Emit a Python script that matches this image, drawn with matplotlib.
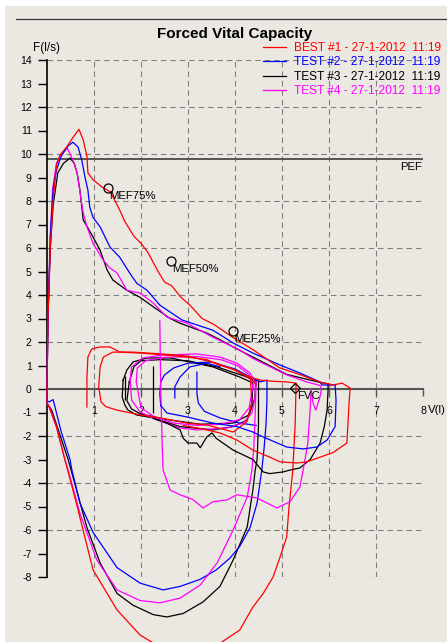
import matplotlib
matplotlib.use('Agg')
import matplotlib.pyplot as plt
from matplotlib.lines import Line2D
from matplotlib.patches import Rectangle

plt.rcParams['font.family'] = ['Liberation Sans', 'DejaVu Sans']
plt.rcParams['axes.unicode_minus'] = False

# ---- data (volume V in l, flow F in l/s) ----
pef = 9.8
mef_v = [1.3, 2.64, 3.96]
mef_f = [8.55, 5.45, 2.47]
mef_labels = ['MEF75%', 'MEF50%', 'MEF25%']
fvc_v, fvc_f = 5.28, 0.03

legend_labels = ['BEST #1 - 27-1-2012  11:19', 'TEST #2 - 27-1-2012  11:19',
                 'TEST #3 - 27-1-2012  11:19', 'TEST #4 - 27-1-2012  11:19']

# red (best #1)
red_exp_v = [0, 0, 0.02, 0.07, 0.13, 0.2, 0.28, 0.42, 0.55, 0.68, 0.77, 0.85, 0.87, 0.98, 1.17, 1.34, 1.45, 1.55, 1.65, 1.85,
             2.0, 2.15, 2.35, 2.5, 2.65, 2.85, 3.05, 3.3, 3.55, 3.95, 4.4, 4.95, 5.4, 5.8, 6.09, 6.28, 6.45, 6.43, 6.4, 6.38,
             6.09, 5.81, 5.53, 5.32, 4.96, 4.74, 4.38, 4.04, 3.68, 3.3, 2.9]
red_exp_f = [-0.6, 0, 3.0, 6.0, 8.0, 9.5, 9.96, 10.3, 10.7, 11.05, 10.6, 9.9, 9.2, 8.9, 8.6, 8.4, 8.0, 7.6, 7.15, 6.5,
             6.2, 5.8, 5.05, 4.55, 4.4, 3.9, 3.55, 3.0, 2.75, 2.2, 1.65, 0.9, 0.6, 0.3, 0.17, 0.25, 0.04, -0.5, -1.6, -2.3,
             -2.7, -2.9, -3.1, -3.15, -3.1, -2.9, -2.6, -2.17, -1.87, -1.7, -1.55]
red_loop1_v = [0.85, 0.85, 0.87, 0.95, 1.13, 1.34, 1.55, 1.98, 2.5, 2.98, 3.4, 3.68, 3.96, 4.2, 4.53, 4.8, 5.1, 5.3, 5.28, 5.23,
               5.15, 5.1, 4.95, 4.81, 4.6, 4.38, 4.1, 3.62, 3.0, 2.34, 1.98, 1.49, 0.98, 0.63, 0.38, 0.2, 0.05, 0]
red_loop1_f = [-0.77, 0.5, 1.36, 1.7, 1.79, 1.79, 1.57, 1.53, 1.45, 1.36, 1.25, 1.0, 0.85, 0.6, 0.38, 0.33, 0.3, 0.25, -1.5, -3.45,
               -5.0, -6.3, -7.2, -8.0, -8.7, -9.28, -10.26, -10.9, -11.2, -10.9, -10.47, -9.4, -7.7, -4.9, -3.0, -1.6, -0.8, -0.6]
red_loop2_v = [4.45, 4.35, 4.0, 3.6, 3.0, 2.4, 1.83, 1.4, 1.2, 1.13, 1.1, 1.15, 1.25, 1.49, 1.98, 2.4, 2.98, 3.4, 3.96, 4.25,
               4.36, 4.33]
red_loop2_f = [0.2, 0.4, 0.8, 1.1, 1.4, 1.5, 1.57, 1.57, 1.36, 0.94, 0.1, -0.55, -0.75, -0.9, -1.1, -1.23, -1.45, -1.53, -1.83, -1.4,
               -0.6, 0.35]

# blue (test #2)
blue_exp_v = [0, 0, 0.02, 0.07, 0.13, 0.2, 0.3, 0.45, 0.55, 0.66, 0.74, 0.81, 0.87, 0.91, 0.98, 1.13, 1.34, 1.55, 1.77, 1.91,
              2.13, 2.4, 2.87, 3.53, 3.96, 4.38, 4.96, 5.38, 5.81, 5.85, 6.13, 6.15, 6.13, 5.96, 5.74, 5.45, 5.1, 4.6, 4.38, 4.04,
              3.53, 2.98, 2.55, 2.42]
blue_exp_f = [-0.5, 0, 3.0, 6.5, 8.5, 9.3, 9.9, 10.35, 10.5, 10.3, 9.74, 9.0, 8.47, 7.74, 7.3, 6.9, 6.04, 5.6, 4.9, 4.5,
              4.2, 3.57, 2.94, 2.5, 1.96, 1.53, 1.02, 0.68, 0.3, 0.17, 0.17, -0.5, -1.6, -2.17, -2.47, -2.55, -2.47, -2.04, -1.83, -1.6,
              -1.45, -1.19, -1.02, -0.7]
blue_loop_v = [2.42, 2.4, 2.42, 2.5, 2.7, 3.0, 3.5, 4.0, 4.38, 4.53, 4.68, 4.68, 4.66, 4.62, 4.57, 4.47, 4.32, 4.1, 3.89, 3.6,
               3.26, 2.83, 2.47, 1.98, 1.49, 0.98, 0.7, 0.53, 0.49, 0.3, 0.13, 0.05, 0]
blue_loop_f = [-0.7, -0.2, 0.3, 0.6, 0.9, 1.1, 1.15, 0.85, 0.45, 0.3, 0.38, -0.5, -1.5, -2.5, -3.45, -4.85, -5.9, -6.7, -7.2, -7.7,
               -8.1, -8.4, -8.55, -8.26, -7.6, -6.1, -4.85, -3.45, -3.0, -1.8, -0.45, -0.55, -0.5]
blue_hook1_v = [2.72, 2.72, 2.83, 3.04, 3.4, 3.68]
blue_hook1_f = [-0.38, 0.1, 0.51, 0.94, 1.1, 0.94]
blue_hook2_v = [3.19, 3.19, 3.22, 3.35, 3.68, 4.1, 4.45]
blue_hook2_f = [0.72, -0.2, -0.6, -0.95, -1.23, -1.45, -1.55]

# black (test #3)
black_exp_v = [0, 0, 0.02, 0.07, 0.13, 0.23, 0.35, 0.49, 0.58, 0.64, 0.7, 0.77, 0.98, 1.13, 1.28, 1.4, 1.7, 1.98, 2.26, 2.62,
               2.83, 3.4, 3.68, 3.96, 4.38, 5.1, 5.81, 5.98, 5.98, 5.96, 5.9, 5.81, 5.6, 5.38, 5.17, 5.02, 4.74, 4.6, 4.38, 3.96,
               3.6, 3.51, 3.4, 3.26, 3.19, 3.0, 2.9, 2.83, 2.55, 2.26]
black_exp_f = [-0.6, 0, 3.0, 6.0, 7.8, 9.2, 9.6, 9.83, 9.6, 9.2, 8.47, 7.2, 6.47, 5.9, 5.06, 4.64, 4.2, 3.9, 3.5, 3.0,
               2.8, 2.38, 2.1, 1.79, 1.36, 0.62, 0.28, 0.22, -0.04, -0.89, -1.6, -2.3, -3.0, -3.36, -3.45, -3.53, -3.6, -3.53, -3.0, -2.6,
               -2.1, -1.87, -2.04, -2.5, -2.3, -2.3, -2.1, -1.74, -1.45, -1.25]
black_loop_v = [1.62, 1.6, 1.66, 1.72, 1.9, 2.26, 2.83, 3.53, 3.96, 4.26, 4.36, 4.38, 4.1, 3.53, 3.04, 2.62, 2.13, 1.83, 1.7, 1.62]
black_loop_f = [0.38, -0.34, -0.7, -0.89, -1.1, -1.23, -1.6, -1.74, -1.6, -1.32, -0.6, 0.26, 0.51, 0.94, 1.15, 1.32, 1.32, 1.15, 0.81, 0.38]
black_loop2_v = [1.75, 1.7, 1.8, 1.98, 2.55, 3.26, 3.96, 4.3, 4.42, 4.45, 4.2, 3.6, 3.0, 2.4, 2.0, 1.85, 1.75]
black_loop2_f = [0.3, -0.5, -0.85, -1.05, -1.3, -1.5, -1.45, -1.1, -0.4, 0.35, 0.55, 0.95, 1.2, 1.25, 1.2, 0.95, 0.3]
black_u_v = [4.38, 4.5, 4.5, 4.47, 4.43, 4.38, 4.26, 3.96, 3.68, 3.32, 2.9, 2.55, 2.26, 1.83, 1.49, 1.13, 0.85, 0.63, 0.45, 0.25,
             0.1, 0]
black_u_f = [0.4, 0.4, -1.5, -3.0, -3.45, -4.3, -5.87, -7.28, -8.4, -9.06, -9.55, -9.7, -9.6, -9.2, -8.7, -7.4, -5.9, -4.3, -3.0, -1.8,
             -0.9, -0.6]
black_bar_v = [1.66, 2.26]
black_bar_top = [0.55, 1.0]
black_bar_bot = [-0.45, -1.0]

# magenta (test #4)
mag_exp_v = [0, 0, 0.02, 0.07, 0.12, 0.2, 0.3, 0.43, 0.55, 0.64, 0.7, 0.77, 0.85, 0.98, 1.19, 1.34, 1.49, 1.7, 1.98, 2.26,
             2.55, 2.98, 3.53, 4.1, 4.38, 5.1, 5.53, 5.81, 5.84, 5.8, 5.72, 5.66, 5.62, 5.6, 5.55, 5.45, 5.38, 5.17, 4.89, 4.68,
             4.47, 4.04, 3.83, 3.53, 3.32, 3.1, 2.83, 2.62, 2.47, 2.45, 2.42, 2.4]
mag_exp_f = [-0.6, 0, 3.0, 6.5, 8.5, 9.6, 10.0, 10.26, 9.74, 9.2, 8.4, 7.5, 6.9, 6.2, 5.5, 5.15, 4.94, 4.2, 4.08, 3.66,
             3.06, 2.8, 2.2, 1.66, 1.3, 0.6, 0.3, 0.15, 0.0, -0.4, -0.9, -0.6, 0.0, -0.8, -2.3, -3.45, -4.17, -4.8, -5.06, -4.85,
             -4.64, -4.5, -4.72, -4.8, -5.06, -4.7, -4.5, -4.3, -3.45, -2.3, 0.0, 2.9]
mag_loop_a_v = [1.77, 1.8, 2.04, 2.47, 3.19, 3.68, 4.04, 4.32, 4.43, 4.43, 4.36, 4.17, 3.83, 3.19, 2.83, 2.34, 1.98, 1.8, 1.77]
mag_loop_a_f = [0.38, 0.94, 1.32, 1.45, 1.49, 1.36, 1.1, 0.68, 0.26, -0.34, -1.02, -1.45, -1.66, -1.74, -1.66, -1.32, -0.98, -0.47, 0.38]
mag_loop_b_v = [1.9, 1.92, 2.1, 2.5, 3.2, 3.7, 4.05, 4.3, 4.38, 4.3, 4.1, 3.7, 3.2, 2.7, 2.3, 2.0, 1.9]
mag_loop_b_f = [0.3, 0.9, 1.2, 1.35, 1.38, 1.25, 1.0, 0.6, 0.1, -0.8, -1.3, -1.5, -1.55, -1.45, -1.2, -0.8, 0.3]
mag_u_v = [4.45, 4.43, 4.4, 4.36, 4.26, 3.96, 3.62, 3.26, 2.83, 2.4, 1.98, 1.49, 1.06, 0.7, 0.45, 0.38, 0.2, 0.05, 0]
mag_u_f = [0.3, -1.0, -2.5, -3.45, -4.6, -6.0, -7.4, -8.34, -8.9, -9.1, -9.0, -8.55, -7.28, -5.28, -3.45, -3.0, -1.6, -0.75, -0.6]

RED, BLUE, BLACK, MAG = '#ff0000', '#0000ff', '#000000', '#ff00ff'

W, H = 447, 642
fig = plt.figure(figsize=(W / 100, H / 100), dpi=100, facecolor='white')
fig.patches.append(Rectangle((5 / W, 0), 1, 1 - 6 / H, transform=fig.transFigure,
                             facecolor='#ebe8e1', edgecolor='none', zorder=-5))
fig.add_artist(Line2D([16 / W, 1], [1 - 19 / H, 1 - 19 / H], color='#333333', lw=0.9))

ax = fig.add_axes([47 / W, 65 / H, 376 / W, 517 / H])
ax.set_zorder(1)
ax.set_xlim(0, 8)
ax.set_ylim(-8, 14)
ax.patch.set_alpha(0)
for s in ['top', 'right']:
    ax.spines[s].set_visible(False)
ax.spines['left'].set_linewidth(1.2)
ax.spines['bottom'].set_position(('data', 0))
ax.spines['bottom'].set_color('#555555')
ax.spines['bottom'].set_linewidth(1.5)
ax.spines['bottom'].set_zorder(2)

ax.set_xticks(range(1, 9))
ax.set_yticks(range(-8, 15))
ax.tick_params(axis='y', length=6.5, width=1, pad=4.5, labelsize=7.6)
ax.tick_params(axis='x', length=5, width=1, pad=7, labelsize=7.6, color='#555555')

# dashed grid
gkw = dict(color='#808080', lw=0.8, ls=(0, (5, 3.5)), zorder=1)
for g in range(1, 9):
    ax.axvline(g, **gkw)
for g in range(-8, 15, 2):
    if g != 0:
        ax.axhline(g, **gkw)

ax.axhline(pef, color='#555555', lw=1.4, zorder=2)
ax.annotate('PEF', (8, pef), xytext=(-1, -3), textcoords='offset pixels',
            ha='right', va='top', fontsize=8.2)

lkw = dict(lw=0.9, clip_on=False, zorder=3)
ax.plot(black_loop_v, black_loop_f, color=BLACK, **lkw)
ax.plot(black_loop2_v, black_loop2_f, color=BLACK, **lkw)
ax.vlines(black_bar_v, black_bar_bot, black_bar_top, color=BLACK, lw=0.9, zorder=3)
ax.plot(black_u_v, black_u_f, color=BLACK, **lkw)
ax.plot(blue_loop_v, blue_loop_f, color=BLUE, **lkw)
ax.plot(blue_hook1_v, blue_hook1_f, color=BLUE, **lkw)
ax.plot(blue_hook2_v, blue_hook2_f, color=BLUE, **lkw)
ax.plot(mag_loop_a_v, mag_loop_a_f, color=MAG, **lkw)
ax.plot(mag_loop_b_v, mag_loop_b_f, color=MAG, **lkw)
ax.plot(mag_u_v, mag_u_f, color=MAG, **lkw)
ax.plot(red_loop1_v, red_loop1_f, color=RED, **lkw)
ax.plot(red_loop2_v, red_loop2_f, color=RED, **lkw)

h_black, = ax.plot(black_exp_v, black_exp_f, color=BLACK, **lkw)
h_mag, = ax.plot(mag_exp_v, mag_exp_f, color=MAG, **lkw)
h_blue, = ax.plot(blue_exp_v, blue_exp_f, color=BLUE, **lkw)
h_red, = ax.plot(red_exp_v, red_exp_f, color=RED, **lkw)

ax.plot(mef_v, mef_f, 'o', ms=6.5, mfc='none', mec='black', mew=0.9, zorder=4)
for v, f, lab in zip(mef_v, mef_f, mef_labels):
    ax.annotate(lab, (v, f), xytext=(1, -8), textcoords='offset pixels',
                ha='left', va='center', fontsize=8.2)
ax.plot([fvc_v], [fvc_f], 'D', ms=5, mfc='none', mec='black', mew=0.9, zorder=4)
ax.annotate('FVC', (fvc_v, fvc_f), xytext=(2, -8), textcoords='offset pixels',
            ha='left', va='center', fontsize=8.2)

leg = ax.legend([h_red, h_blue, h_black, h_mag], legend_labels, loc='upper right',
                bbox_to_anchor=(441 / W, 1 - 42 / H), bbox_transform=fig.transFigure,
                frameon=False, fontsize=8.6, handlelength=1.85, handletextpad=0.7,
                labelspacing=0.2, borderpad=0, borderaxespad=0, labelcolor='linecolor')

fig.text(235 / W, 1 - 34 / H, 'Forced Vital Capacity', ha='center', va='center',
         fontsize=11, fontweight='bold')
fig.text(33 / W, 1 - 48 / H, 'F(l/s)', ha='left', va='center', fontsize=8.5)
fig.text(428 / W, 1 - 410 / H, 'V(l)', ha='left', va='center', fontsize=8.2)

fig.savefig('out.png', dpi=100, facecolor=fig.get_facecolor())
